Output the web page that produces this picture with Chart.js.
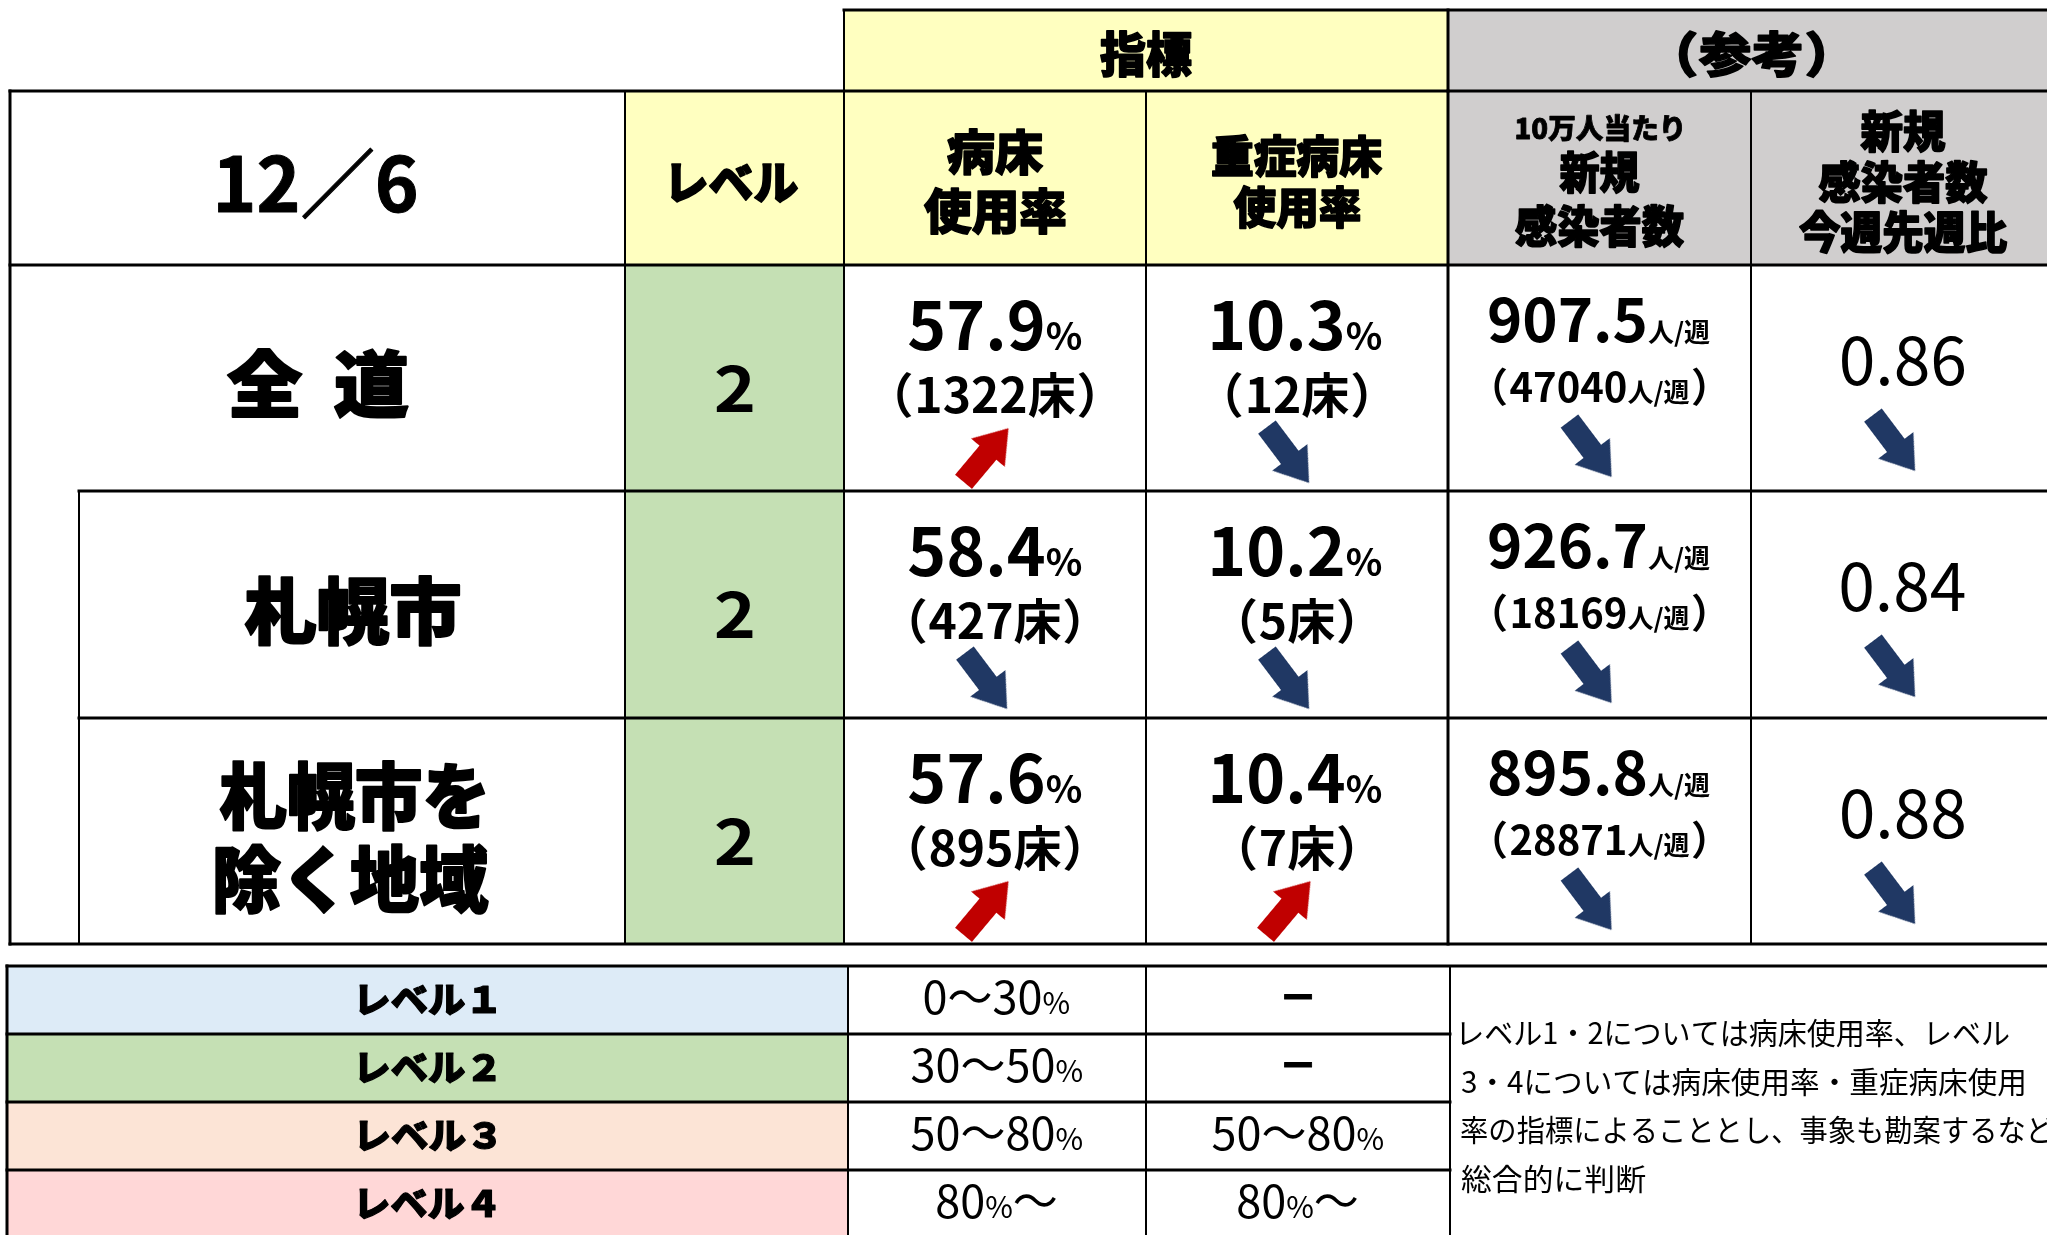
<!DOCTYPE html>
<html lang="ja">
<head>
<meta charset="utf-8">
<title>指標 12/6</title>
<script src="https://cdn.jsdelivr.net/npm/chart.js@4/dist/chart.umd.min.js"></script>
<style>
  html, body { margin: 0; padding: 0; background: #fff; overflow: hidden; }
  #chart { display: block; width: 2047px; height: 1235px; }
</style>
</head>
<body>
<canvas id="chart" width="2047" height="1235"></canvas>
<script>
//---------------------------------------------- datos
const fecha = "12／6";
const areas = ["全　道", "札幌市", "札幌市を\n除く地域"];
const levels = [2, 2, 2];

const bedRate = [57.9, 58.4, 57.6];
const bedCount = [1322, 427, 895];
const bedTrend = ["up", "down", "up"];

const severeRate = [10.3, 10.2, 10.4];
const severeCount = [12, 5, 7];
const severeTrend = ["down", "down", "up"];

const casesPer100k = [907.5, 926.7, 895.8];
const casesWeek = [47040, 18169, 28871];
const casesTrend = ["down", "down", "down"];

const weekRatio = [0.86, 0.84, 0.88];
const ratioTrend = ["down", "down", "down"];

const groupTitles = ["指標", "（参考）"];
const colTitles = [
    ["レベル"],
    ["病床", "使用率"],
    ["重症病床", "使用率"],
    ["10万人当たり", "新規", "感染者数"],
    ["新規", "感染者数", "今週先週比"]
];

const levelNames = ["レベル１", "レベル２", "レベル３", "レベル４"];
const bedRanges = ["0〜30%", "30〜50%", "50〜80%", "80%〜"];
const severeRanges = ["－", "－", "50〜80%", "80%〜"];
const noteLines = [
    "レベル1・2については病床使用率、レベル",
    "3・4については病床使用率・重症病床使用",
    "率の指標によることとし、事象も勘案するなど、",
    "総合的に判断"
];

//---------------------------------------------- layout / estilos
const colX = [10, 625, 844, 1146, 1448, 1751, 2055];
const rowY = [91, 265, 491, 718, 944];
const topY = 10;
const indentX = 79;
const legX = [7, 848, 1146, 1450, 2055];
const legY = [966, 1034, 1102, 1170, 1238];

const yellow = "#FFFFC0";
const gray = "#D0CECE";
const levelColors = ["#DDEBF7", "#C5E0B4", "#FCE4D6", "#FFD7D7"];
const trendColors = { up: "#C00000", down: "#203864" };
const trendAngle = { up: -50, down: 53 };

const JP = '"Noto Sans CJK JP", "Noto Sans", sans-serif';

// y centro, ancho de tinta, tamaño de cada linea de titulo
const titleLayout = [
    [{ y: 183, fit: 126, size: 46 }],
    [{ y: 152, fit: 96, size: 48 }, { y: 211, fit: 142, size: 48 }],
    [{ y: 156, fit: 170, size: 44 }, { y: 207, fit: 127, size: 44 }],
    [{ y: 128, fit: 166, size: 28 }, { y: 172, fit: 80, size: 44 }, { y: 226, fit: 169, size: 44 }],
    [{ y: 131, fit: 85, size: 44 }, { y: 182, fit: 169, size: 44 }, { y: 232, fit: 208, size: 44 }]
];
const areaLayout = [
    [{ dy: 118, fit: 181 }],
    [{ dy: 120, fit: 215 }],
    [{ dy: 78, fit: 265 }, { dy: 161, fit: 273 }]
];
const noteFit = [548, 563, 602, 185];
const arrowDy = [190, 190, 184, 178];

//---------------------------------------------- texto
function toRuns(str, size, weight, small) {
    const runs = [];
    for (const ch of str) {
        let r;
        if (ch === "（" || ch === "）") r = { t: ch, size, weight, tight: true };
        else if (ch === "　") r = { t: "", size, weight, gap: size * 0.42 };
        else if (small && "%人/週".includes(ch)) r = { t: ch, size: small, weight };
        else r = { t: ch, size, weight };
        const last = runs[runs.length - 1];
        if (last && !last.tight && !r.tight && !last.gap && !r.gap && last.size === r.size) last.t += ch;
        else runs.push(r);
    }
    return runs;
}

function drawText(ctx, runs, x, y, o = {}) {
    let pen = 0, inkL = Infinity, inkR = -Infinity, asc = 0, desc = 0;
    const placed = runs.map(r => {
        if (r.gap) { const p = { r, at: pen }; pen += r.gap; return p; }
        ctx.font = `${r.weight} ${r.size}px ${JP}`;
        const m = ctx.measureText(r.t);
        let at, adv;
        if (r.tight) {
            const pad = r.size * 0.06;
            at = pen + pad + m.actualBoundingBoxLeft;
            adv = m.actualBoundingBoxLeft + m.actualBoundingBoxRight + 2 * pad;
        } else {
            at = pen;
            adv = m.width;
        }
        inkL = Math.min(inkL, at - m.actualBoundingBoxLeft);
        inkR = Math.max(inkR, at + m.actualBoundingBoxRight);
        asc = Math.max(asc, m.actualBoundingBoxAscent);
        desc = Math.max(desc, m.actualBoundingBoxDescent);
        pen += adv;
        return { r, at };
    });
    const w = inkR - inkL;
    const sx = o.fit ? o.fit / w : (o.sx || 1);
    const base = o.mode === "base" ? y : y + (asc - desc) / 2;
    const x0 = o.align === "left" ? x - inkL * sx : x - (inkL + w / 2) * sx;
    ctx.save();
    ctx.fillStyle = o.color || "#000";
    ctx.strokeStyle = o.color || "#000";
    ctx.lineJoin = "round";
    ctx.textAlign = "left";
    ctx.textBaseline = "alphabetic";
    ctx.translate(x0, base);
    ctx.scale(sx, 1);
    placed.forEach(p => {
        if (p.r.gap) return;
        ctx.font = `${p.r.weight} ${p.r.size}px ${JP}`;
        ctx.fillText(p.r.t, p.at, 0);
        if (o.heavy) {
            ctx.lineWidth = o.heavy;
            ctx.strokeText(p.r.t, p.at, 0);
        }
    });
    ctx.restore();
}

//---------------------------------------------- tabla (plugin)
const tablePlugin = {
    id: "tabla",
    beforeDatasetsDraw(chart) {
        const ctx = chart.ctx;
        const X = v => chart.scales.x.getPixelForValue(v);
        const Y = v => chart.scales.y.getPixelForValue(v);
        const rect = (x0, y0, x1, y1, c) => {
            ctx.fillStyle = c;
            ctx.fillRect(X(x0), Y(y0), X(x1) - X(x0), Y(y1) - Y(y0));
        };
        const line = (x0, y0, x1, y1, w) => {
            ctx.lineWidth = w;
            ctx.beginPath();
            ctx.moveTo(X(x0), Y(y0));
            ctx.lineTo(X(x1), Y(y1));
            ctx.stroke();
        };
        const cc = j => (colX[j] + colX[j + 1]) / 2;

        // fondos
        rect(colX[2], topY, colX[4], rowY[0], yellow);
        rect(colX[4], topY, colX[6], rowY[0], gray);
        rect(colX[1], rowY[0], colX[4], rowY[1], yellow);
        rect(colX[4], rowY[0], colX[6], rowY[1], gray);
        levels.forEach((lv, i) => rect(colX[1], rowY[i + 1], colX[2], rowY[i + 2], levelColors[lv - 1]));
        levelColors.forEach((c, i) => rect(legX[0], legY[i], legX[1], legY[i + 1], c));

        // encabezados
        drawText(ctx, toRuns(fecha, 75, 700), X(cc(0)), Y(183), { fit: 198, heavy: 1 });
        drawText(ctx, toRuns(groupTitles[0], 48, 900), X((colX[2] + colX[4]) / 2), Y(54), { fit: 92, heavy: 1.6 });
        drawText(ctx, toRuns(groupTitles[1], 48, 900), X((colX[4] + colX[6]) / 2), Y(54), { fit: 146, heavy: 1.6 });
        colTitles.forEach((lines, j) => {
            lines.forEach((t, k) => {
                const l = titleLayout[j][k];
                drawText(ctx, toRuns(t, l.size, 900), X(cc(j + 1)), Y(l.y), { fit: l.fit, heavy: l.size > 30 ? 1.6 : 0.8 });
            });
        });

        // filas
        areas.forEach((name, i) => {
            const top = rowY[i + 1];
            const ax = i === 0 ? cc(0) : (indentX + colX[1]) / 2;
            name.split("\n").forEach((t, k) => {
                const l = areaLayout[i][k];
                drawText(ctx, toRuns(t, 72, 900), X(ax), Y(top + l.dy), { fit: l.fit, heavy: 2 });
            });
            drawText(ctx, toRuns(String(levels[i]), 62, 700), X(cc(1)), Y(top + 123), { fit: 37 });

            drawText(ctx, toRuns(bedRate[i].toFixed(1) + "%", 66, 700, 38), X(cc(2)), Y(top + 85), { mode: "base" });
            drawText(ctx, toRuns("（" + bedCount[i] + "床）", 48, 700), X(cc(2)), Y(top + 148), { mode: "base" });
            drawText(ctx, toRuns(severeRate[i].toFixed(1) + "%", 66, 700, 38), X(cc(3)), Y(top + 85), { mode: "base" });
            drawText(ctx, toRuns("（" + severeCount[i] + "床）", 48, 700), X(cc(3)), Y(top + 148), { mode: "base" });
            drawText(ctx, toRuns(casesPer100k[i].toFixed(1) + "人/週", 60, 700, 26), X(cc(4)), Y(top + 77), { mode: "base" });
            drawText(ctx, toRuns("（" + casesWeek[i] + "人/週）", 40, 700, 26), X(cc(4)), Y(top + 137), { mode: "base" });
            drawText(ctx, toRuns(weekRatio[i].toFixed(2), 66, 400), X(cc(5)), Y(top + 120), { mode: "base" });
        });

        // leyenda
        levelNames.forEach((t, i) => {
            const top = legY[i];
            drawText(ctx, toRuns(t, 36, 900), X((legX[0] + legX[1]) / 2), Y(top + 34), { fit: 136, heavy: 1.2 });
            drawText(ctx, toRuns(bedRanges[i], 45, 400, 30), X((legX[1] + legX[2]) / 2), Y(top + 48), { mode: "base" });
            const dash = severeRanges[i] === "－";
            drawText(ctx, toRuns(severeRanges[i], 45, dash ? 700 : 400, 30), X((legX[2] + legX[3]) / 2), Y(top + 48),
                dash ? { mode: "base", fit: 28, heavy: 1 } : { mode: "base" });
        });
        noteLines.forEach((t, k) => {
            drawText(ctx, toRuns(t, 30, 400), X(1461), Y(legY[0] + 67 + 48.5 * k), { align: "left", fit: noteFit[k] });
        });

        // lineas
        ctx.save();
        ctx.strokeStyle = "#000";
        ctx.lineCap = "square";
        line(colX[2], topY, colX[6], topY, 3);
        line(colX[2], topY, colX[2], rowY[0], 2);
        line(colX[4], topY, colX[4], rowY[0], 3);
        line(colX[0], rowY[0], colX[6], rowY[0], 3);
        line(colX[0], rowY[1], colX[6], rowY[1], 3);
        line(indentX, rowY[2], colX[6], rowY[2], 3);
        line(indentX, rowY[3], colX[6], rowY[3], 3);
        line(colX[0], rowY[4], colX[6], rowY[4], 3);
        line(colX[0], rowY[0], colX[0], rowY[4], 3);
        line(indentX, rowY[2], indentX, rowY[4], 2);
        for (let j = 1; j < 6; j++) line(colX[j], rowY[0], colX[j], rowY[4], j === 4 ? 3 : 2);

        line(legX[0], legY[0], legX[4], legY[0], 3);
        for (let i = 1; i < 5; i++) line(legX[0], legY[i], legX[3], legY[i], 3);
        for (let j = 0; j < 4; j++) line(legX[j], legY[0], legX[j], legY[4], j === 0 ? 3 : 2);
        ctx.restore();
    }
};

//---------------------------------------------- flechas
function makeArrow(color) {
    const c = document.createElement("canvas");
    c.width = 84;
    c.height = 84;
    const g = c.getContext("2d");
    g.translate(42, 42);
    g.fillStyle = color;
    g.beginPath();
    g.moveTo(-35, -11);
    g.lineTo(3, -11);
    g.lineTo(3, -22);
    g.lineTo(35, 0);
    g.lineTo(3, 22);
    g.lineTo(3, 11);
    g.lineTo(-35, 11);
    g.closePath();
    g.fill();
    return c;
}
const arrowImg = { up: makeArrow(trendColors.up), down: makeArrow(trendColors.down) };

const trends = [bedTrend, severeTrend, casesTrend, ratioTrend];
const trendCols = [2, 3, 4, 5];
const arrowPoints = [];
trends.forEach((serie, k) => {
    serie.forEach((tr, i) => {
        const j = trendCols[k];
        arrowPoints.push({ x: (colX[j] + colX[j + 1]) / 2 - 9, y: rowY[i + 1] + arrowDy[k], trend: tr });
    });
});

const config = {
    type: "scatter",
    data: {
        datasets: [{
            data: arrowPoints,
            pointStyle: c => arrowImg[c.raw.trend],
            rotation: c => trendAngle[c.raw.trend],
            radius: 30,
            clip: false
        }]
    },
    options: {
        responsive: false,
        animation: false,
        devicePixelRatio: 1,
        events: [],
        layout: { padding: 0, autoPadding: false },
        plugins: {
            legend: { display: false },
            tooltip: { enabled: false },
            title: { display: false }
        },
        scales: {
            x: { type: "linear", min: 0, max: 2047, display: false },
            y: { type: "linear", min: 0, max: 1235, reverse: true, display: false }
        }
    },
    plugins: [tablePlugin]
};

new Chart(document.getElementById("chart"), config);
</script>
</body>
</html>
